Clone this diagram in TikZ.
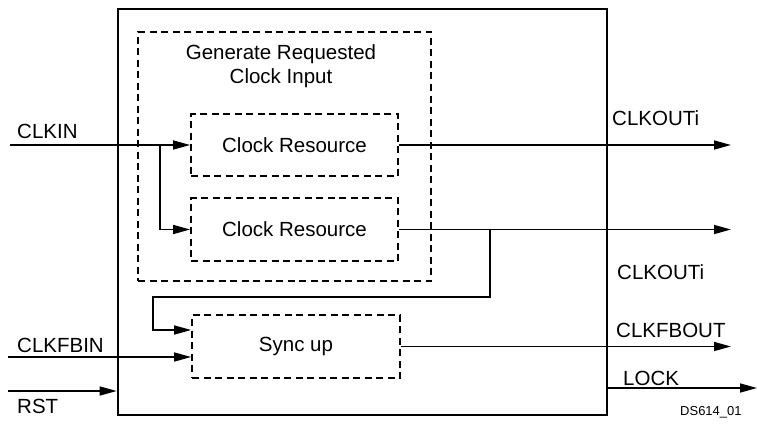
\documentclass[tikz,border=0pt]{standalone}
\usepackage{fontspec}
\setmainfont{Liberation Sans}
\usetikzlibrary{arrows.meta}
\begin{document}
\begin{tikzpicture}[x=1pt,y=-1pt,
  font=\fontsize{20.5}{25}\selectfont,
  mainbox/.style={draw, line width=2.6pt, inner sep=0pt, minimum width=489pt, minimum height=406pt},
  dbox/.style={draw, dashed, dash pattern=on 7pt off 4.5pt, line width=1.7pt, inner sep=0pt},
  arr/.style={line width=1.5pt, -{Triangle[length=17pt,width=9pt]}},
  lbl/.style={inner sep=0pt, anchor=base west}]
\useasboundingbox (0,0) rectangle (757,436);
\node[mainbox] (main) at (362.5,212) {};
\node[dbox, minimum width=293pt, minimum height=249pt] (gen) at (284.5,156.5) {};
\node[inner sep=0pt, align=center, anchor=base, font=\fontsize{20.5}{23.5}\selectfont] (gentxt) at (281,83) {Generate Requested\\Clock Input};
\node[dbox, minimum width=207pt, minimum height=62pt] (cr1) at (294.5,145) {Clock Resource};
\node[dbox, minimum width=207pt, minimum height=63pt] (cr2) at (294.5,229.5) {Clock Resource};
\node[dbox, minimum width=208pt, minimum height=63pt] (sync) at (296,346.5) {Sync up};
% coordinates
\coordinate (clkin) at (10,145);
\coordinate (b1) at (160,145);
\coordinate (o1) at (731,145);
\coordinate (o2) at (731,229.5);
\coordinate (b2) at (490,229.5);
\coordinate (fbturn) at (490,297);
\coordinate (fbleft) at (153,297);
\coordinate (s1) at ([yshift=16.5pt]sync.west);
\coordinate (s2) at ([yshift=-10.5pt]sync.west);
\coordinate (fbin) at (8,357);
\coordinate (rst) at (8,391);
\coordinate (fbout) at (731,346.5);
\coordinate (lock) at (757,388);
% connectors
\draw[arr] (clkin) -- (cr1.west);
\draw[arr] (b1) |- (cr2.west);
\draw[arr] (cr1.east) -- (o1);
\draw[arr] (cr2.east) -- (o2);
\draw[arr] (b2) -- (fbturn) -- (fbleft) |- (s1);
\draw[arr] (fbin) -- (s2);
\draw[arr] (rst) -- (rst -| main.west);
\draw[arr] (sync.east) -- (fbout);
\draw[arr] (lock -| main.east) -- (lock);
% labels
\node[lbl] (l1) at (17,138) {CLKIN};
\node[lbl] (l2) at (612,125) {CLKOUTi};
\node[lbl] (l3) at (617,279) {CLKOUTi};
\node[lbl] (l4) at (17,352) {CLKFBIN};
\node[lbl] (l5) at (17,413) {RST};
\node[lbl] (l6) at (616,337) {CLKFBOUT};
\node[lbl] (l7) at (623,385) {LOCK};
\node[lbl, font=\fontsize{13}{15}\selectfont] (l8) at (680,415) {DS614\_01};
\end{tikzpicture}
\end{document}
